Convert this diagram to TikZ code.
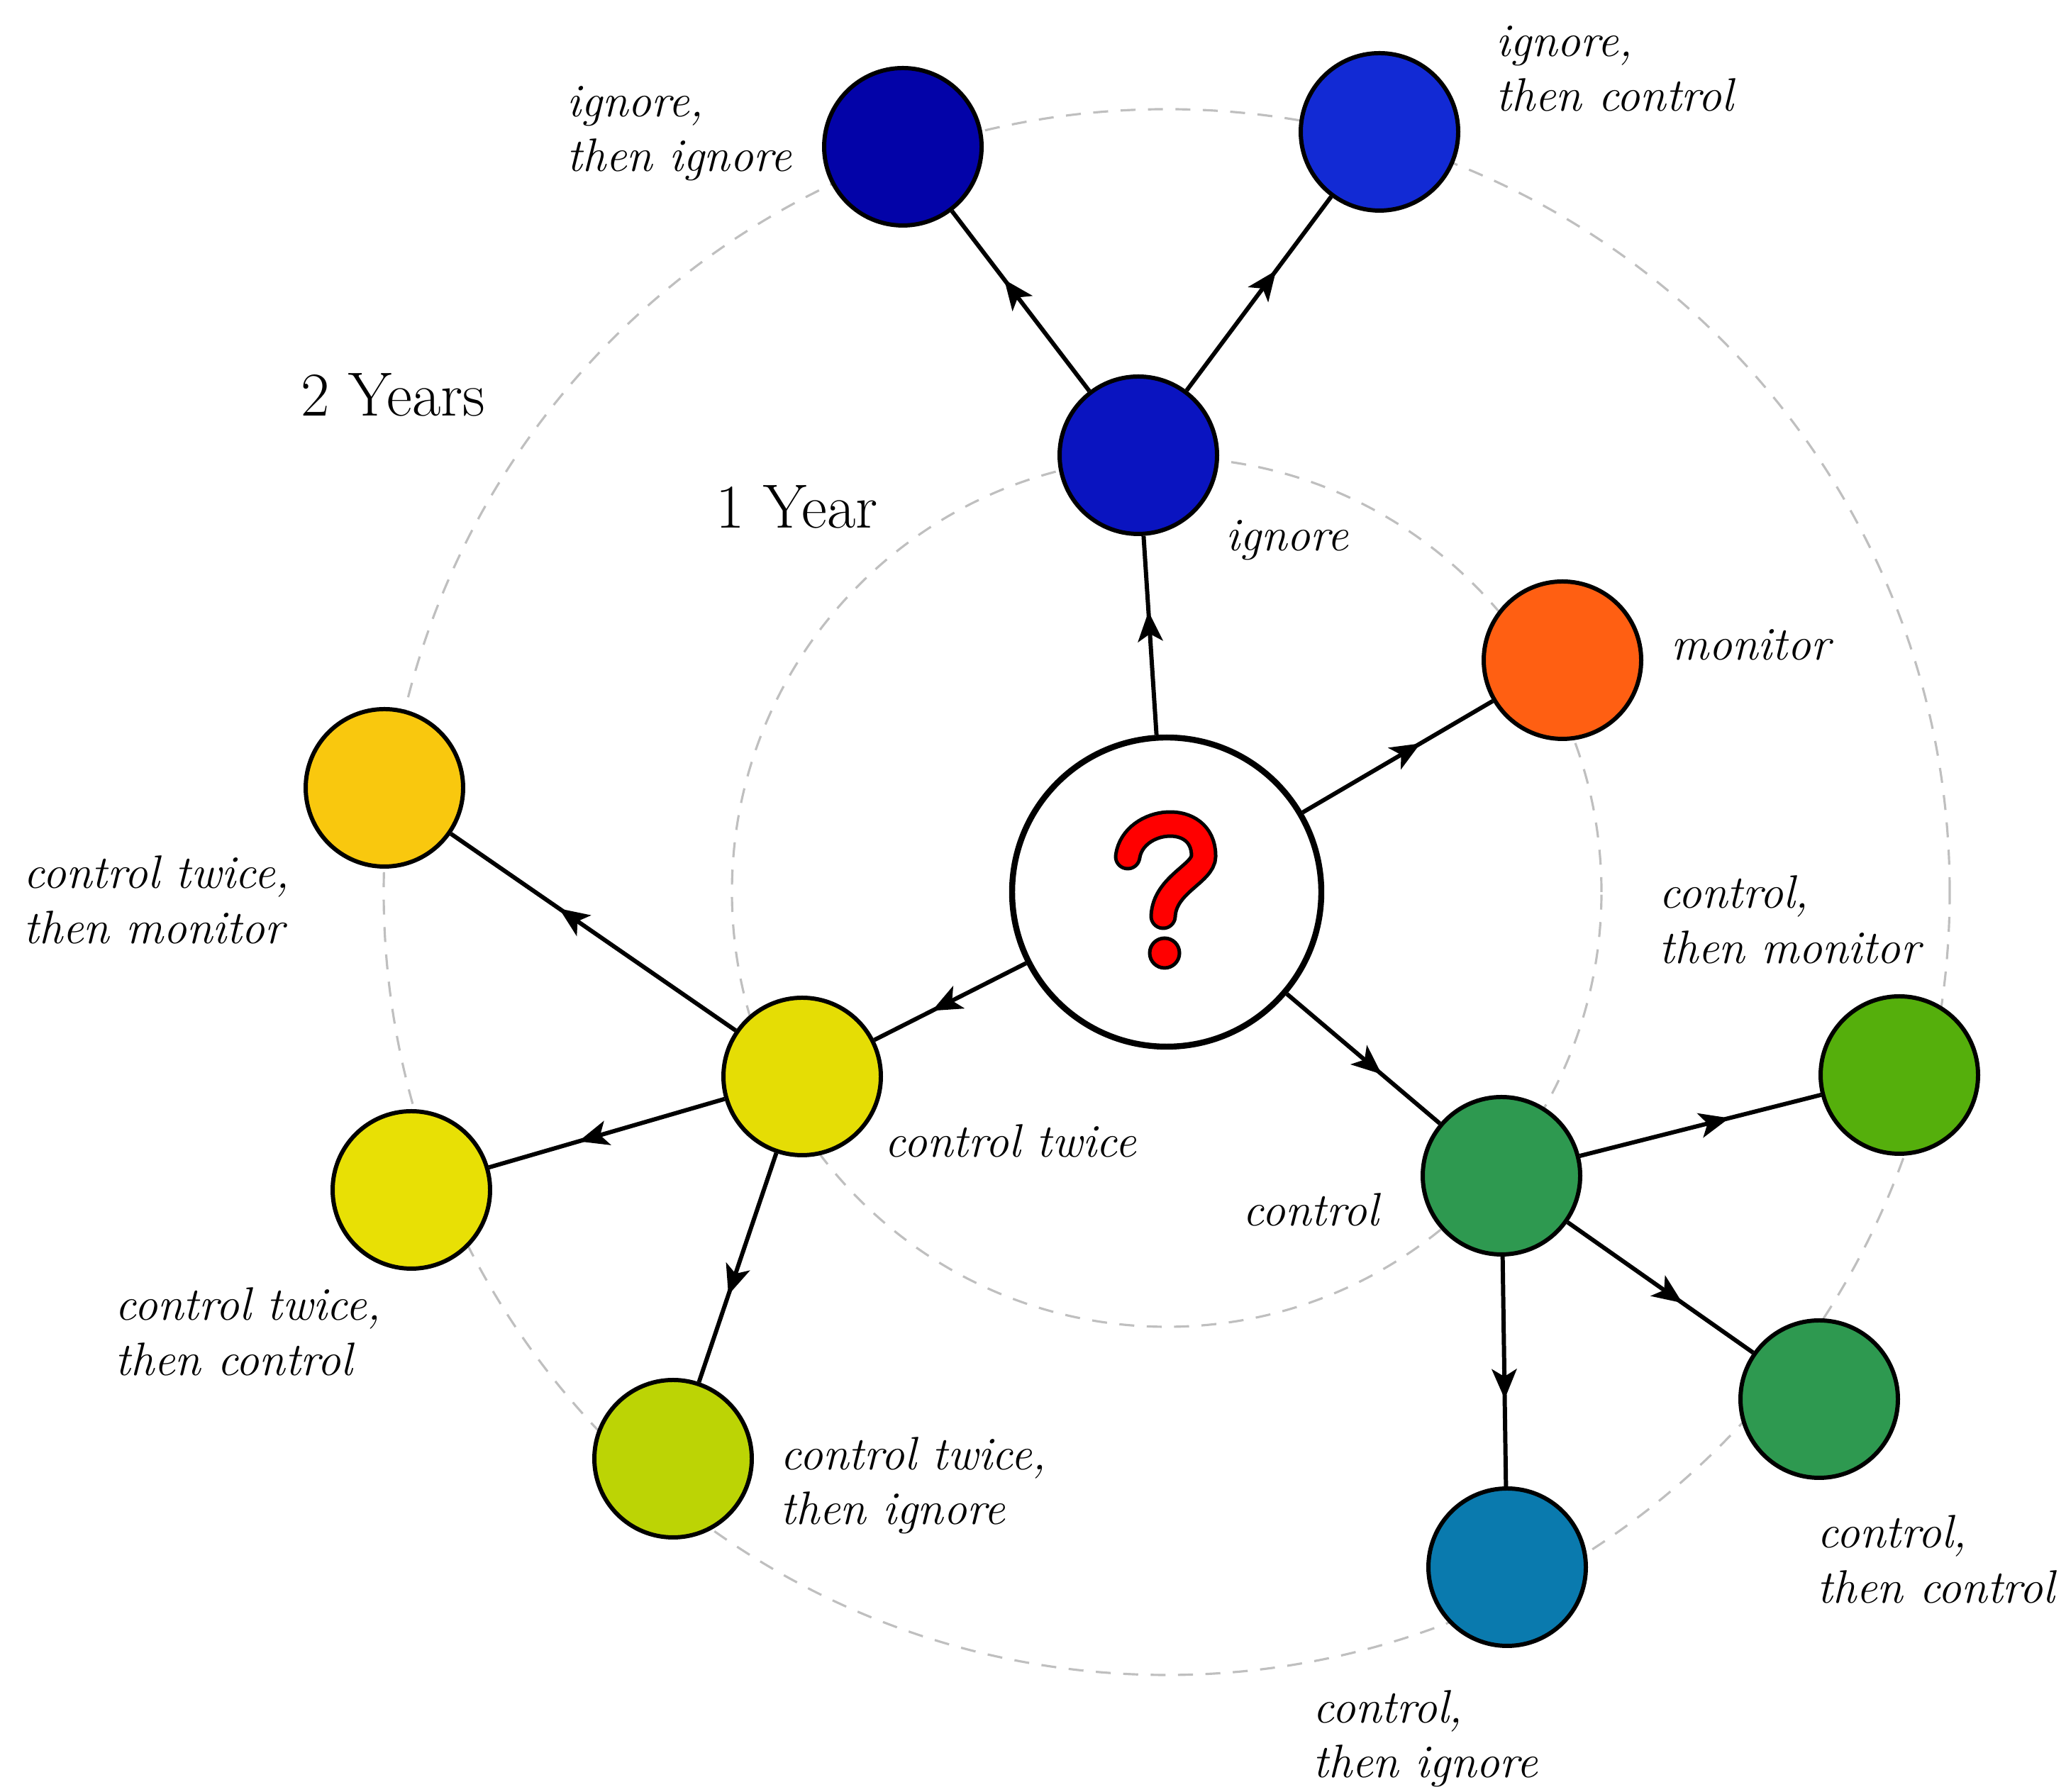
\documentclass[tikz,border=0pt]{standalone}
\usetikzlibrary{arrows.meta,decorations.markings}

\newcommand\qhook{(15.90,13.19) .. controls (15.98,13.75) and (16.97,13.85) .. (16.97,13.20)
  .. controls (16.97,12.95) and (16.42,12.80) .. (16.40,12.35)}

\begin{document}
\begin{tikzpicture}[
  state/.style={circle,draw,line width=1.7pt,minimum size=2.22cm,inner sep=0pt},
  edge/.style={line width=1.7pt,postaction={decorate},
    decoration={markings,mark=at position 0.62 with {\arrow{Stealth[length=12pt,width=10pt,inset=3pt]}}}},
  ring/.style={draw=black!25,line width=0.9pt,dash pattern=on 6pt off 5pt},
  lbl/.style={anchor=west,inner sep=0pt,align=left,font=\fontsize{18.8}{22}\selectfont\itshape},
  yearlbl/.style={anchor=west,inner sep=0pt,font=\fontsize{25}{29}\selectfont}
]
  % colors
  \definecolor{cIgn}{RGB}{10,20,192}
  \definecolor{cIgnIgn}{RGB}{3,3,168}
  \definecolor{cIgnCtl}{RGB}{18,42,212}
  \definecolor{cMon}{RGB}{255,95,18}
  \definecolor{cCtl}{RGB}{46,153,80}
  \definecolor{cCtlMon}{RGB}{85,175,12}
  \definecolor{cCtlIgn}{RGB}{10,122,174}
  \definecolor{cTw}{RGB}{229,221,5}
  \definecolor{cTwMon}{RGB}{249,200,14}
  \definecolor{cTwCtl}{RGB}{232,224,5}
  \definecolor{cTwIgn}{RGB}{188,212,5}
  \definecolor{qRed}{RGB}{255,0,0}
  \useasboundingbox (0,0) rectangle (29.13,25.27);
  % year rings
  \draw[ring] (16.45,12.69) circle (6.13);
  \draw[ring] (16.45,12.69) circle (11.04);
  % nodes
  \node[state,line width=2.4pt,minimum size=4.36cm,fill=white] (root) at (16.45,12.69) {};
  \node[state,fill=cIgn] (ignore) at (16.05,18.85) {};
  \node[state,fill=cIgnIgn] (ignig) at (12.73,23.20) {};
  \node[state,fill=cIgnCtl] (ignctl) at (19.45,23.41) {};
  \node[state,fill=cMon] (monitor) at (22.03,15.96) {};
  \node[state,fill=cCtl] (control) at (21.17,8.69) {};
  \node[state,fill=cCtlMon] (ctlmon) at (26.78,10.11) {};
  \node[state,fill=cCtl] (ctlctl) at (25.65,5.54) {};
  \node[state,fill=cCtlIgn] (ctlign) at (21.25,3.17) {};
  \node[state,fill=cTw] (twice) at (11.31,10.09) {};
  \node[state,fill=cTwMon] (twmon) at (5.42,14.16) {};
  \node[state,fill=cTwCtl] (twctl) at (5.80,8.49) {};
  \node[state,fill=cTwIgn] (twign) at (9.49,4.70) {};
  % question mark
  \draw[line width=0.39cm,line cap=round] \qhook;
  \draw[qRed,line width=0.29cm,line cap=round] \qhook;
  \draw[fill=qRed,line width=0.05cm] (16.42,11.83) circle (0.21);
  % edges
  \foreach \a/\b in {root/ignore, root/monitor, root/control, root/twice,
                     ignore/ignig, ignore/ignctl,
                     control/ctlmon, control/ctlctl, control/ctlign,
                     twice/twmon, twice/twctl, twice/twign}
    \draw[edge] (\a) -- (\b);
  % labels
  \node[yearlbl] (ltwo) at (4.24,19.70) {2 Years};
  \node[yearlbl] (lone) at (10.09,18.12) {1 Year};
  \node[lbl] (lignore) at (17.28,17.65) {ignore};
  \node[lbl] (lignig) at (7.99,23.39) {ignore,\\then ignore};
  \node[lbl] (lignctl) at (21.09,24.30) {ignore,\\then control};
  \node[lbl] (lmonitor) at (23.56,16.18) {monitor};
  \node[lbl] (lcontrol) at (17.52,8.21) {control};
  \node[lbl] (lctlmon) at (23.39,12.30) {control,\\then monitor};
  \node[lbl] (lctlctl) at (25.62,3.28) {control,\\then control};
  \node[lbl] (lctlign) at (18.51,0.75) {control,\\then ignore};
  \node[lbl] (ltwice) at (12.47,9.18) {control twice};
  \node[lbl] (ltwmon) at (0.33,12.58) {control twice,\\then monitor};
  \node[lbl] (ltwctl) at (1.62,6.49) {control twice,\\then control};
  \node[lbl] (ltwign) at (11.00,4.32) {control twice,\\then ignore};
\end{tikzpicture}
\end{document}
